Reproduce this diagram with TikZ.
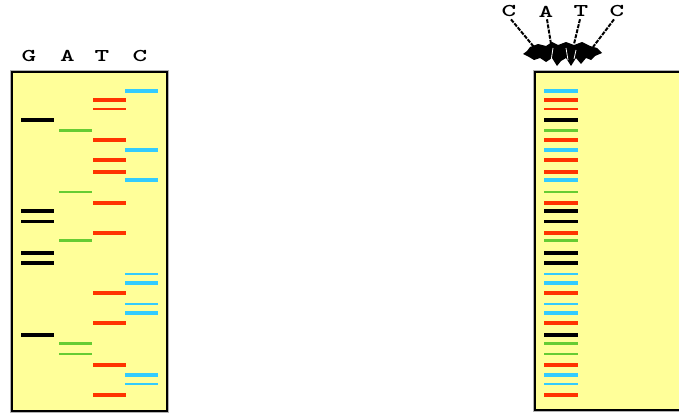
\documentclass[tikz,border=0pt]{standalone}
\usepackage{fontspec}
\newcommand{\widelab}[1]{\scalebox{1.55}[1]{#1}}
\begin{document}
\begin{tikzpicture}[x=1pt,y=-1pt,
  gel/.style={fill=gelyellow},
  gelborder/.style={draw=black,line width=1.6pt},
  gelshadow/.style={draw=black!30,line width=3.2pt},
  baselab/.style={font=\ttfamily\bfseries\fontsize{18}{18}\selectfont,inner sep=0pt,text=black},
  laneG/.style={draw=black},
  laneA/.style={draw=bandgreen},
  laneT/.style={draw=bandred},
  laneC/.style={draw=bandcyan},
  feeder/.style={draw=black,line width=2pt,dash pattern=on 4pt off 1.2pt},
]
\definecolor{gelyellow}{RGB}{255,255,153}
\definecolor{bandred}{RGB}{255,51,0}
\definecolor{bandgreen}{RGB}{102,204,51}
\definecolor{bandcyan}{RGB}{51,204,255}
\useasboundingbox (0,0) rectangle (679,415);

% left gel
\draw[gelshadow] (12,72) rectangle (167,411);
\fill[gel] (12,72) rectangle (167,411);
\draw[gelborder] (12,72) rectangle (167,411);

% right gel (runs off the right edge)
\draw[gelshadow] (679,72) -- (535,72) -- (535,410) -- (679,410);
\fill[gel] (535,72) rectangle (679,410);
\draw[gelborder] (679,72) -- (535,72) -- (535,410) -- (679,410);

% left labels
\node[baselab] (lG) at (29,55.5) {\widelab{G}};
\node[baselab] (lA) at (67.5,55.5) {\widelab{A}};
\node[baselab] (lT) at (102,55.5) {\widelab{T}};
\node[baselab] (lC) at (140,55.5) {\widelab{C}};

% bands: y / lane x / lane / weight
\foreach \y/\x/\c/\w in {
  90.7/125/C/4, 100.3/93/T/4, 109.3/93/T/2, 120.3/21/G/4, 130.3/59/A/3,
  140/93/T/4, 150.3/125/C/4, 160.3/93/T/4, 172.3/93/T/4, 180.3/125/C/4,
  191.7/59/A/2, 202.7/93/T/4, 210.7/21/G/4, 221.7/21/G/3, 232.7/93/T/4,
  240.7/59/A/3, 252.7/21/G/4, 263/21/G/4, 274/125/C/2, 283/125/C/4,
  293/93/T/4, 304/125/C/2, 313.3/125/C/4, 323.3/93/T/4, 335.3/21/G/4,
  343/59/A/3, 354.3/59/A/2, 365.3/93/T/4, 375.3/125/C/4, 384.3/125/C/2,
  395.3/93/T/4}{
  \draw[lane\c,line width=\w pt] (\x,\y) -- ++(33,0);
  \draw[lane\c,line width=\w pt] (544,\y) -- ++(34,0);
}

% right labels
\node[baselab] (rC1) at (509,11.5) {\widelab{C}};
\node[baselab] (rA) at (546,11.5) {\widelab{A}};
\node[baselab] (rT) at (581,11.5) {\widelab{T}};
\node[baselab] (rC2) at (617,11.5) {\widelab{C}};

% detector blob
\fill[black] (530,47) -- (538,44) -- (546,46) -- (552,42) -- (558,45) -- (566,42)
  -- (574,45) -- (582,42) -- (590,46) -- (597,48) -- (602,53) -- (595,56)
  -- (591,60) -- (586,58) -- (581,64) -- (576,58) -- (571,66) -- (566,58)
  -- (561,61) -- (557,66) -- (552,58) -- (546,62) -- (540,58) -- (534,60)
  -- (529,57) -- (523,54) -- (527,51) -- cycle;
\draw[white,line width=0.8pt] (553,48) -- (551,61) (566,48) -- (568,60) (576,50) -- (574,59);

\coordinate (bC1) at (534,47);
\coordinate (bA) at (551,44);
\coordinate (bT) at (574,44);
\coordinate (bC2) at (593,47);
\draw[feeder] (rC1.south) ++(2,2) -- (bC1);
\draw[feeder] (rA.south) ++(1,2) -- (bA);
\draw[feeder] (rT.south) ++(-1,2) -- (bT);
\draw[feeder] (rC2.south) ++(-3,2) -- (bC2);
\end{tikzpicture}
\end{document}
